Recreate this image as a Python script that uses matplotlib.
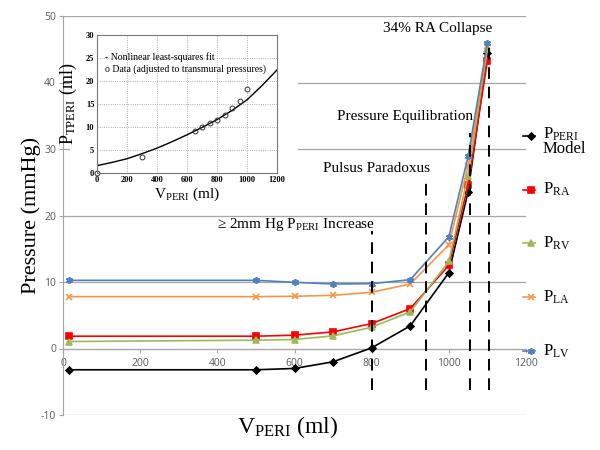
import numpy as np
import matplotlib.pyplot as plt
from matplotlib.lines import Line2D

plt.rcParams["mathtext.default"] = "regular"
plt.rcParams["axes.unicode_minus"] = False

SERIF = "Liberation Serif"
SANS = "Open Sans"

# main chart: pericardial volume vs chamber pressures
volumes = [15, 500, 600, 700, 800, 900, 1000, 1050, 1100]
p_peri = [-3.2, -3.2, -3.0, -2.0, 0.1, 3.4, 11.4, 23.6, 44.5]
p_ra = [1.85, 1.85, 2.0, 2.5, 3.75, 6.0, 12.5, 24.6, 43.3]
p_rv = [1.05, 1.25, 1.35, 1.9, 3.2, 5.5, 13.1, 26.0, 45.0]
p_la = [7.8, 7.8, 7.85, 8.0, 8.45, 9.7, 15.6, 27.5, 45.5]
p_lv = [10.25, 10.25, 9.95, 9.7, 9.75, 10.35, 16.8, 28.9, 46.0]

# event markers (dashed lines)
event_volumes = [800, 942, 1055, 1105]
event_tops = [17.7, 25.8, 32.4, 45.5]
event_labels = [r"≥ 2mm Hg P$_{PERI}$ Increase", "Pulsus Paradoxus",
                "Pressure Equilibration", "34% RA Collapse"]

# inset: pressure-volume fit
data_volumes = [0, 300, 650, 700, 750, 800, 850, 900, 950, 1000]
data_pressures = [0.0, 3.5, 9.1, 10.1, 10.9, 11.5, 12.5, 14.2, 15.7, 18.3]
fit_volumes = [0, 100, 200, 300, 400, 500, 600, 700, 800, 900, 1000, 1100, 1200]
fit_pressures = [1.6, 2.3, 3.1, 4.2, 5.4, 6.8, 8.3, 9.9, 11.6, 13.6, 15.9, 19.0, 22.4]

series = [
    (p_peri, "black", "D", 3.5, r"P$_{PERI}$" + "\nModel"),
    (p_ra, "#ff0000", "s", 5, r"P$_{RA}$"),
    (p_rv, "#9bbb59", "^", 4, r"P$_{RV}$"),
    (p_la, "#f79646", "x", 4.5, r"P$_{LA}$"),
    (p_lv, "#4f81bd", (6, 2, 0), 5, r"P$_{LV}$"),
]

fig = plt.figure(figsize=(6, 4.5), dpi=100)
ax = fig.add_axes([63 / 600, 1 - 415 / 450, 463 / 600, 399 / 450])

for vals, color, marker, ms, label in series:
    ax.plot(volumes, vals, color=color, marker=marker, ms=ms, lw=1.2,
            mew=1.2, zorder=3, clip_on=False)

ax.set_xlim(0, 1200)
ax.set_ylim(-10, 50)
ax.set_xticks(np.arange(0, 1201, 200))
ax.set_yticks(np.arange(-10, 51, 10))
ax.spines["bottom"].set_position(("data", 0))
ax.spines["top"].set_visible(False)
ax.spines["right"].set_visible(False)
for s in ("left", "bottom"):
    ax.spines[s].set_color("#a6a6a6")
ax.yaxis.grid(True, color="#a6a6a6", lw=0.9)
ax.set_axisbelow(True)
ax.tick_params(colors="#a6a6a6", length=3, labelsize=7.5, labelcolor="#595959")
ax.tick_params(axis="y", pad=2)
for lab in ax.get_xticklabels() + ax.get_yticklabels():
    lab.set_fontfamily(SANS)

for x, top in zip(event_volumes, event_tops):
    ax.plot([x, x], [-6.3, top], color="black", lw=1.4, ls=(0, (6, 4)),
            clip_on=False, zorder=4)

# labels sit just left of their dashed lines
label_heights = [18.6, 27.0, 34.9, 48.1]
for x, ty, text in zip(event_volumes, label_heights, event_labels):
    ax.text(x + 8, ty, text, ha="right", va="center", fontsize=11,
            fontfamily=SERIF, zorder=5)

fig.text(31 / 600, 1 - 215 / 450, "Pressure (mmHg)", rotation=90,
         ha="center", va="center", fontsize=16, fontfamily=SERIF)
fig.text(288 / 600, 1 - 427 / 450, r"V$_{PERI}$ (ml)", ha="center",
         va="center", fontsize=17, fontfamily=SERIF)

# manual legend on the right
for i, (vals, color, marker, ms, label) in enumerate(series):
    y = 1 - (136 + i * 53.7) / 450
    fig.add_artist(Line2D([523 / 600, 535 / 600], [y, y], color=color,
                          lw=1.2, transform=fig.transFigure))
    fig.add_artist(Line2D([531 / 600], [y], color=color, marker=marker,
                          ms=ms, mew=1.2, transform=fig.transFigure))
    fig.text(543 / 600, y - (0.012 if i == 0 else 0), label, ha="left",
             va="center", fontsize=12, fontfamily=SERIF, linespacing=0.85)

# white background behind the inset
bg = fig.add_axes([70 / 600, 1 - 200 / 450, 228 / 600, 175 / 450])
bg.set_xticks([])
bg.set_yticks([])
for s in bg.spines.values():
    s.set_visible(False)
bg.set_facecolor("white")

ax_in = fig.add_axes([97 / 600, 1 - 173 / 450, 180 / 600, 138 / 450])
ax_in.plot(fit_volumes, fit_pressures, color="black", lw=1.0)
ax_in.plot(data_volumes, data_pressures, ls="none", marker="o", ms=3.5,
           mfc="none", mec="#333333", mew=0.7, clip_on=False)
ax_in.set_xlim(0, 1200)
ax_in.set_ylim(0, 30)
ax_in.set_xticks(np.arange(0, 1201, 200))
ax_in.set_yticks(np.arange(0, 31, 5))
ax_in.grid(True, color="#999999", lw=0.6, ls=":")
for s in ax_in.spines.values():
    s.set_color("#777777")
    s.set_linewidth(0.8)
ax_in.tick_params(length=0, labelsize=6, pad=2)
for lab in ax_in.get_xticklabels() + ax_in.get_yticklabels():
    lab.set_fontfamily(SERIF)
    lab.set_fontweight("bold")
ax_in.text(0.045, 0.84, "- Nonlinear least-squares fit", transform=ax_in.transAxes,
           fontsize=7, fontfamily=SERIF, va="center")
ax_in.text(0.045, 0.75, "o Data (adjusted to transmural pressures)",
           transform=ax_in.transAxes, fontsize=7, fontfamily=SERIF, va="center")
ax_in.set_ylabel(r"P$_{TPERI}$ (ml)", fontsize=13, fontfamily=SERIF, labelpad=0)
ax_in.yaxis.set_label_coords(-0.1, 0.5)
ax_in.set_xlabel(r"V$_{PERI}$ (ml)", fontsize=11, fontfamily=SERIF, labelpad=1)

fig.savefig("out.png", dpi=100)
